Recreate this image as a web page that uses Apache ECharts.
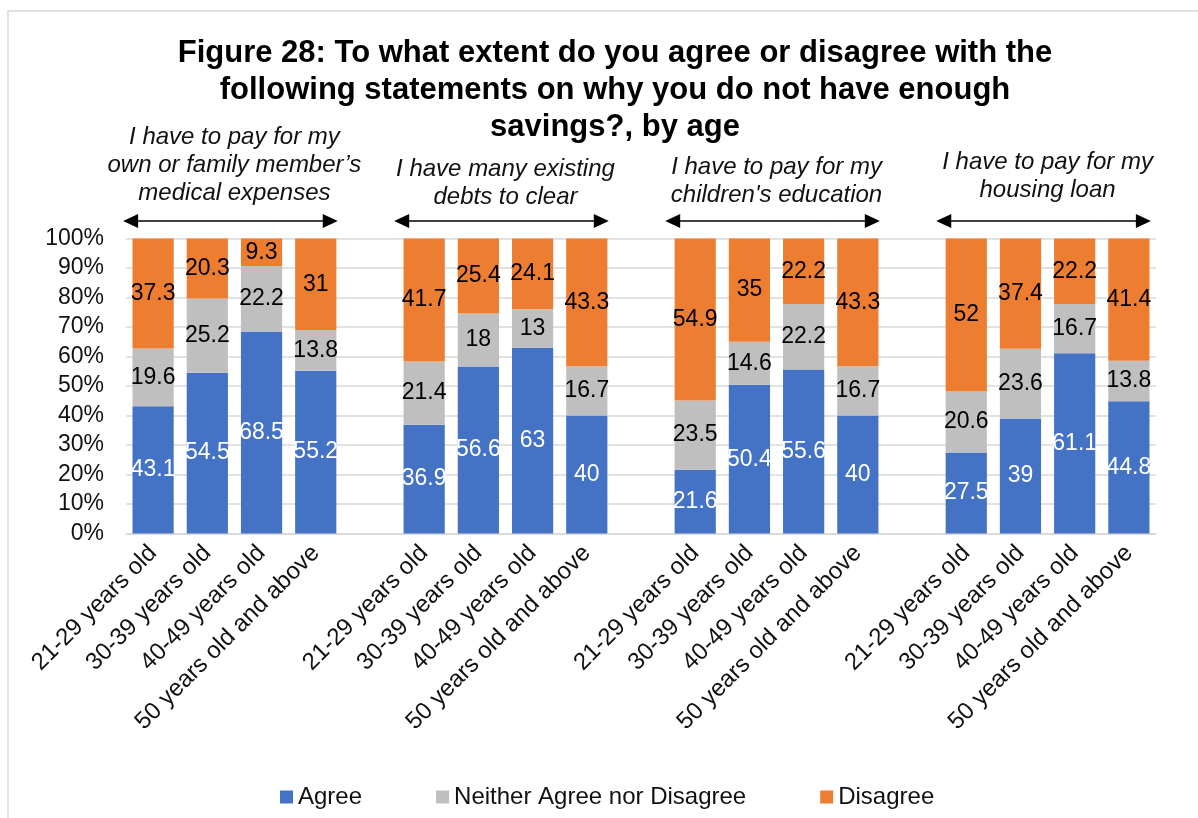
<!DOCTYPE html>
<html>
<head>
<meta charset="utf-8">
<script src="https://cdn.jsdelivr.net/npm/echarts@6/dist/echarts.min.js"></script>
<style>
  html, body { margin: 0; padding: 0; background: #fff; }
  #chart { width: 1198px; height: 818px; }
</style>
</head>
<body>
<div id="chart"></div>
<script>
// Age bands shown under every statement group
const ageGroups = ['21-29 years old', '30-39 years old', '40-49 years old', '50 years old and above'];

// Statements, one per group of bars (split into the lines drawn above each group)
const statements = [
  ['I have to pay for my', 'own or family member\u2019s', 'medical expenses'],
  ['I have many existing', 'debts to clear'],
  ['I have to pay for my', 'children\'s education'],
  ['I have to pay for my', 'housing loan']
];

// Percentages per statement, ordered by age band
const agree = [
  [43.1, 54.5, 68.5, 55.2],
  [36.9, 56.6, 63, 40],
  [21.6, 50.4, 55.6, 40],
  [27.5, 39, 61.1, 44.8]
];
const neither = [
  [19.6, 25.2, 22.2, 13.8],
  [21.4, 18, 13, 16.7],
  [23.5, 14.6, 22.2, 16.7],
  [20.6, 23.6, 16.7, 13.8]
];
const disagree = [
  [37.3, 20.3, 9.3, 31],
  [41.7, 25.4, 24.1, 43.3],
  [54.9, 35, 22.2, 43.3],
  [52, 37.4, 22.2, 41.4]
];

const yTicks = [0, 10, 20, 30, 40, 50, 60, 70, 80, 90, 100];

const seriesNames = ['Agree', 'Neither Agree nor Disagree', 'Disagree'];
const colors = ['#4472C4', '#BFBFBF', '#ED7D31'];

// Flatten groups onto one category axis with an empty slot between groups
function flatten(groups) {
  const out = [];
  groups.forEach((g, i) => {
    if (i > 0) out.push(null);
    g.forEach(v => out.push(v));
  });
  return out;
}
const categories = flatten(statements.map(() => ageGroups)).map(c => c === null ? '' : c);

const FONT = '"Liberation Sans", Arial, sans-serif';

function makeSeries(name, values, color, labelColor) {
  return {
    name: name,
    type: 'bar',
    stack: 'total',
    data: flatten(values),
    barCategoryGap: '24%',
    itemStyle: { color: color },
    label: {
      show: true,
      position: 'inside',
      color: labelColor,
      fontFamily: FONT,
      fontSize: 23,
      formatter: p => (p.value === null || p.value === undefined) ? '' : String(p.value)
    }
  };
}

const chart = echarts.init(document.getElementById('chart'), null, { renderer: 'canvas' });

chart.setOption({
  animation: false,
  backgroundColor: '#fff',
  textStyle: { fontFamily: FONT },
  title: {
    text: 'Figure 28: To what extent do you agree or disagree with the\nfollowing statements on why you do not have enough\nsavings?, by age',
    left: 610,
    top: 30,
    textAlign: 'center',
    textStyle: {
      fontFamily: FONT,
      fontSize: 31,
      fontWeight: 'bold',
      lineHeight: 37,
      color: '#000'
    }
  },
  legend: {
    data: seriesNames,
    left: 275,
    top: 780,
    itemWidth: 13,
    itemHeight: 13,
    itemGap: 74,
    icon: 'rect',
    textStyle: { fontFamily: FONT, fontSize: 24, color: '#111' }
  },
  grid: { left: 126, right: 42, top: 238.5, bottom: 284.5, containLabel: false },
  xAxis: {
    type: 'category',
    data: categories,
    axisTick: { show: false },
    axisLine: { lineStyle: { color: '#d9d9d9', width: 1.5 } },
    axisLabel: {
      interval: 0,
      rotate: 45,
      margin: 16,
      fontFamily: FONT,
      fontSize: 24,
      color: '#111'
    }
  },
  yAxis: {
    type: 'value',
    min: yTicks[0],
    max: yTicks[yTicks.length - 1],
    interval: yTicks[1] - yTicks[0],
    axisLine: { show: false },
    axisTick: { show: false },
    splitLine: { lineStyle: { color: '#d9d9d9', width: 1.5 } },
    axisLabel: {
      formatter: '{value}%',
      margin: 22,
      fontFamily: FONT,
      fontSize: 23,
      color: '#111'
    }
  },
  series: [
    makeSeries(seriesNames[0], agree, colors[0], '#fff'),
    makeSeries(seriesNames[1], neither, colors[1], '#000'),
    makeSeries(seriesNames[2], disagree, colors[2], '#000')
  ]
});

// Statement captions and double-headed arrows over each group, placed from the axis scale
const lastLineY = [193, 197, 195, 190];
const arrowY = 221;
const graphics = [{
  type: 'rect',
  shape: { x: 8, y: 11, width: 1400, height: 1000 },
  style: { fill: 'none', stroke: '#d9d9d9', lineWidth: 1.5 },
  silent: true
}];
statements.forEach((lines, gi) => {
  const firstIdx = gi * (ageGroups.length + 1);
  const lastIdx = firstIdx + ageGroups.length - 1;
  const x0 = chart.convertToPixel({ xAxisIndex: 0 }, firstIdx);
  const x1 = chart.convertToPixel({ xAxisIndex: 0 }, lastIdx);
  const cx = (x0 + x1) / 2;
  lines.forEach((t, li) => {
    graphics.push({
      type: 'text',
      x: cx,
      y: lastLineY[gi] - (lines.length - 1 - li) * 28,
      style: {
        text: t,
        fill: '#111',
        font: 'italic 24px ' + FONT,
        textAlign: 'center',
        textVerticalAlign: 'middle'
      },
      silent: true
    });
  });
  const ax0 = x0 - 30, ax1 = x1 + 22, h = 7, L = 15;
  graphics.push({
    type: 'line',
    shape: { x1: ax0 + L - 2, y1: arrowY, x2: ax1 - L + 2, y2: arrowY },
    style: { stroke: '#000', lineWidth: 1.5 },
    silent: true
  });
  graphics.push({
    type: 'polygon',
    shape: { points: [[ax0, arrowY], [ax0 + L, arrowY - h], [ax0 + L, arrowY + h]] },
    style: { fill: '#000' },
    silent: true
  });
  graphics.push({
    type: 'polygon',
    shape: { points: [[ax1, arrowY], [ax1 - L, arrowY - h], [ax1 - L, arrowY + h]] },
    style: { fill: '#000' },
    silent: true
  });
});
chart.setOption({ graphic: graphics });
</script>
</body>
</html>
